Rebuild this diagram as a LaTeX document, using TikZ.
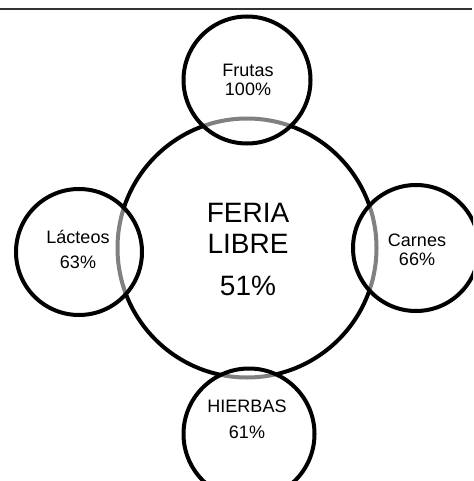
\documentclass[tikz,border=0pt]{standalone}
\usepackage{fontspec}
\setmainfont{Liberation Sans}
\begin{document}
\begin{tikzpicture}[x=1pt,y=1pt,
  ring/.style={circle, draw=black, line width=4pt, inner sep=0pt},
  sat/.style={ring, fill=white, fill opacity=0.5},
  small/.style={font=\fontsize{18}{20}\selectfont, anchor=base, inner sep=0pt},
  big/.style={font=\fontsize{28}{30}\selectfont, anchor=base, inner sep=0pt}]
\clip (0,0) rectangle (473,-481);
\fill[white] (0,0) rectangle (473,-481);
\coordinate (l0) at (0,-9.5);
\coordinate (l1) at (472,-9.5);
\draw[black!80, line width=2pt] (l0) -- (l1);
% central circle
\node[ring, minimum size=259pt] (feria) at (247,-248) {};
% satellites
\node[sat, minimum size=127pt] (frutas) at (247,-80) {};
\node[sat, minimum size=126pt] (lacteos) at (79,-252) {};
\node[sat, minimum size=126pt] (carnes) at (416,-248) {};
\node[sat, minimum size=131pt] (hierbas) at (249,-434) {};
% texts
\node[big] (t1) at (248,-222) {FERIA};
\node[big] (t2) at (248,-253) {LIBRE};
\node[big] (t3) at (248,-295) {51\%};
\node[small] (f1) at (248,-77) {Frutas};
\node[small] (f2) at (248,-96) {100\%};
\node[small] (a1) at (78,-243) {Lácteos};
\node[small] (a2) at (78,-268) {63\%};
\node[small] (c1) at (417,-246) {Carnes};
\node[small] (c2) at (417,-265) {66\%};
\node[small] (h1) at (247,-412) {HIERBAS};
\node[small] (h2) at (247,-438) {61\%};
\end{tikzpicture}
\end{document}
